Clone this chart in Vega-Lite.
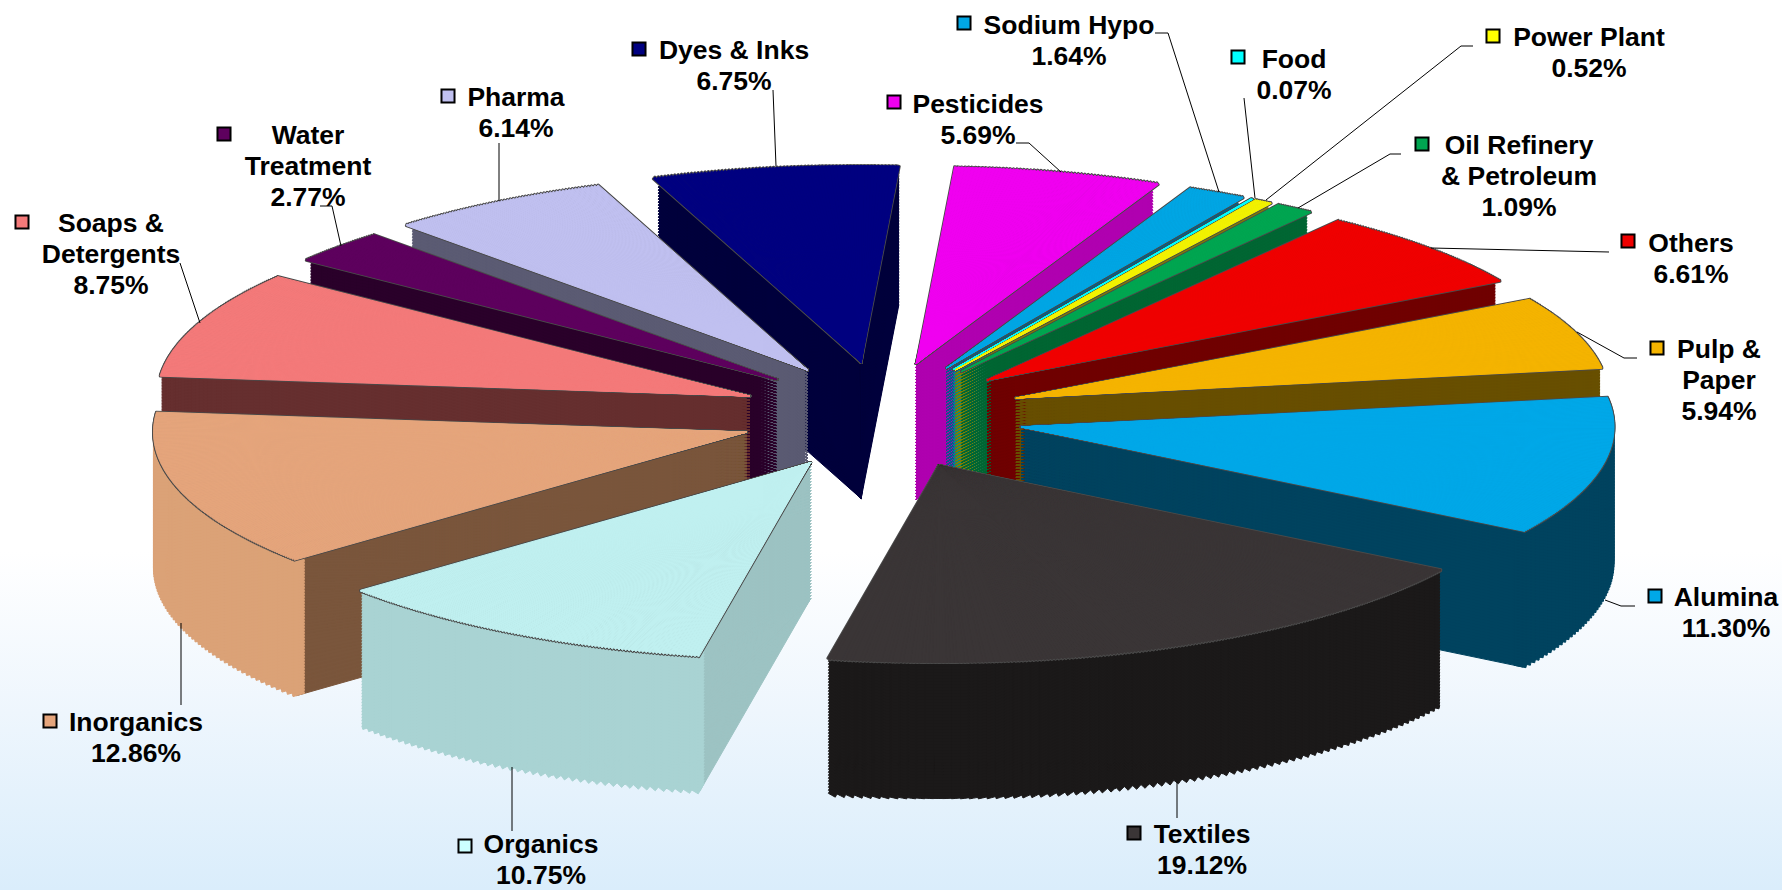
{
"$schema":"https://vega.github.io/schema/vega-lite/v6.json",
"width":1782,"height":890,"padding":0,"autosize":{"type":"none"},
"background":"#ffffff",
"view":{"stroke":null,"fill":{"gradient":"linear","x1":0,"y1":0,"x2":0,"y2":1,"stops":[{"offset":0,"color":"#ffffff"},{"offset":0.62,"color":"#ffffff"},{"offset":0.8,"color":"#eef6fd"},{"offset":1,"color":"#daedfb"}]}},
"data":{"values":[
{"name":"Pesticides","label":"Pesticides","value":5.69,"pos":0},
{"name":"Dyes & Inks","label":"Dyes & Inks","value":6.75,"pos":14},
{"name":"Sodium Hypo","label":"Sodium Hypo","value":1.64,"pos":1},
{"name":"Food","label":"Food","value":0.07,"pos":2},
{"name":"Power Plant","label":"Power Plant","value":0.52,"pos":3},
{"name":"Pharma","label":"Pharma","value":6.14,"pos":13},
{"name":"Oil Refinery & Petroleum","label":"Oil Refinery\n& Petroleum","value":1.09,"pos":4},
{"name":"Water Treatment","label":"Water\nTreatment","value":2.77,"pos":12},
{"name":"Others","label":"Others","value":6.61,"pos":5},
{"name":"Soaps & Detergents","label":"Soaps &\nDetergents","value":8.75,"pos":11},
{"name":"Pulp & Paper","label":"Pulp &\nPaper","value":5.94,"pos":6},
{"name":"Inorganics","label":"Inorganics","value":12.86,"pos":10},
{"name":"Alumina","label":"Alumina","value":11.30,"pos":7},
{"name":"Organics","label":"Organics","value":10.75,"pos":9},
{"name":"Textiles","label":"Textiles","value":19.12,"pos":8}
]},
"transform":[
{"window":[{"op":"sum","field":"value","as":"cum"}],"sort":[{"field":"pos","order":"ascending"}]},
{"calculate":"(datum.cum-datum.value)*3.6+3.7","as":"t0"},
{"calculate":"datum.cum*3.6+3.7","as":"t1"},
{"calculate":"(datum.t0+datum.t1)/2*PI/180","as":"tm"},
{"calculate":"882+142*sin(datum.tm)","as":"ax"},
{"calculate":"416-54*cos(datum.tm)","as":"ay"},
{"calculate":"datum.label+'\\n'+format(datum.value,'.2f')+'%'","as":"txt"}
],
"resolve":{"scale":{"x":"independent","y":"independent","fill":"independent","stroke":"independent"}},
"layer":[
{"transform":[
{"calculate":"ceil(datum.value*3)+3","as":"n"},{"calculate":"sequence(0,datum.n)","as":"steps"},{"flatten":["steps"],"as":["step"]},
{"calculate":"(datum.t0+(datum.t1-datum.t0)*datum.step/datum.n)*PI/180","as":"ra"},
{"calculate":"(datum.t0+(datum.t1-datum.t0)*(datum.step+1)/datum.n)*PI/180","as":"rb"},
{"calculate":"atan2(593*sin(datum.ra),197*cos(datum.ra))","as":"pa0"},
{"calculate":"atan2(593*sin(datum.rb),197*cos(datum.rb))","as":"pb0"},
{"calculate":"datum.pa0+2*PI*round((datum.ra-datum.pa0)/(2*PI))","as":"pa"},
{"calculate":"datum.pb0+2*PI*round((datum.rb-datum.pb0)/(2*PI))","as":"pb"},
{"calculate":"min(sqrt(pow(593*sin(datum.ra),2)+pow(197*cos(datum.ra),2)),sqrt(pow(593*sin(datum.rb),2)+pow(197*cos(datum.rb),2)))-1","as":"r"},
{"calculate":"[136,133,130,127,124,121,118,115,112,109,106,103,100,97,94,91,88,85,82,79,76,73,70,67,64,61,58,55,52,49,46,43,40,37,34,31,28,25,22,19,16,13,10,7,4,1]","as":"ds"},{"flatten":["ds"],"as":["d"]},{"calculate":"datum.ay+datum.d","as":"yy"}],
"mark":{"type":"arc","strokeWidth":1},
"encoding":{
"x":{"field":"ax","type":"quantitative","scale":{"domain":[0,1782],"nice":false,"zero":false},"axis":null},
"y":{"field":"yy","type":"quantitative","scale":{"domain":[890,0],"nice":false,"zero":false},"axis":null},
"theta":{"field":"pa","type":"quantitative","scale":null,"stack":null},
"theta2":{"field":"pb"},
"radius":{"field":"r","type":"quantitative","scale":null},
"fill":{"field":"name","type":"nominal","legend":null,"scale":{"domain":["Pesticides","Sodium Hypo","Food","Power Plant","Oil Refinery & Petroleum","Others","Pulp & Paper","Alumina","Textiles","Organics","Inorganics","Soaps & Detergents","Water Treatment","Pharma","Dyes & Inks"],"range":["#b000b0","#00628a","#008a8a","#808000","#006633","#700000","#684f00","#00435f","#1b1919","#9dc3c3","#7a563c","#662f2f","#2a002a","#5b5b73","#00003c"]}},
"stroke":{"field":"name","type":"nominal","legend":null,"scale":{"domain":["Pesticides","Sodium Hypo","Food","Power Plant","Oil Refinery & Petroleum","Others","Pulp & Paper","Alumina","Textiles","Organics","Inorganics","Soaps & Detergents","Water Treatment","Pharma","Dyes & Inks"],"range":["#b000b0","#00628a","#008a8a","#808000","#006633","#700000","#684f00","#00435f","#1b1919","#9dc3c3","#7a563c","#662f2f","#2a002a","#5b5b73","#00003c"]}}
}},
{"transform":[
{"filter":"datum.pos>=7&&datum.pos<=10"},
{"calculate":"ceil(datum.value*4)+3","as":"n"},{"calculate":"sequence(0,datum.n)","as":"steps"},{"flatten":["steps"],"as":["step"]},
{"calculate":"(datum.t0+(datum.t1-datum.t0)*datum.step/datum.n)*PI/180","as":"ra"},
{"calculate":"(datum.t0+(datum.t1-datum.t0)*(datum.step+1)/datum.n)*PI/180","as":"rb"},
{"calculate":"atan2(593*sin(datum.ra),197*cos(datum.ra))","as":"pa0"},
{"calculate":"atan2(593*sin(datum.rb),197*cos(datum.rb))","as":"pb0"},
{"calculate":"datum.pa0+2*PI*round((datum.ra-datum.pa0)/(2*PI))","as":"pa"},
{"calculate":"datum.pb0+2*PI*round((datum.rb-datum.pb0)/(2*PI))","as":"pb"},
{"calculate":"sqrt(pow(593*sin((datum.ra+datum.rb)/2),2)+pow(197*cos((datum.ra+datum.rb)/2),2))","as":"r"},
{"calculate":"datum.r-12","as":"r2"},
{"calculate":"[136,133,130,127,124,121,118,115,112,109,106,103,100,97,94,91,88,85,82,79,76,73,70,67,64,61,58,55,52,49,46,43,40,37,34,31,28,25,22,19,16,13,10,7,4,1]","as":"ds"},{"flatten":["ds"],"as":["d"]},{"calculate":"datum.ay+datum.d","as":"yy"}],
"mark":{"type":"arc","strokeWidth":1},
"encoding":{
"x":{"field":"ax","type":"quantitative","scale":{"domain":[0,1782],"nice":false,"zero":false},"axis":null},
"y":{"field":"yy","type":"quantitative","scale":{"domain":[890,0],"nice":false,"zero":false},"axis":null},
"theta":{"field":"pa","type":"quantitative","scale":null,"stack":null},
"theta2":{"field":"pb"},
"radius":{"field":"r","type":"quantitative","scale":null},
"radius2":{"field":"r2"},
"fill":{"field":"name","type":"nominal","legend":null,"scale":{"domain":["Alumina","Textiles","Organics","Inorganics"],"range":["#00435f","#1b1919","#a9d3d3","#dba277"]}},
"stroke":{"field":"name","type":"nominal","legend":null,"scale":{"domain":["Alumina","Textiles","Organics","Inorganics"],"range":["#00435f","#1b1919","#a9d3d3","#dba277"]}}
}},
{"transform":[
{"calculate":"ceil(datum.value*10)+4","as":"n"},{"calculate":"sequence(0,datum.n)","as":"steps"},{"flatten":["steps"],"as":["step"]},
{"calculate":"(datum.t0+(datum.t1-datum.t0)*datum.step/datum.n)*PI/180","as":"ra"},
{"calculate":"(datum.t0+(datum.t1-datum.t0)*(datum.step+1)/datum.n)*PI/180","as":"rb"},
{"calculate":"atan2(593*sin(datum.ra),197*cos(datum.ra))","as":"pa0"},
{"calculate":"atan2(593*sin(datum.rb),197*cos(datum.rb))","as":"pb0"},
{"calculate":"datum.pa0+2*PI*round((datum.ra-datum.pa0)/(2*PI))","as":"pa"},
{"calculate":"datum.pb0+2*PI*round((datum.rb-datum.pb0)/(2*PI))","as":"pb"},
{"calculate":"sqrt(pow(593*sin((datum.ra+datum.rb)/2),2)+pow(197*cos((datum.ra+datum.rb)/2),2))","as":"r"}],
"mark":{"type":"arc","stroke":"#4a4a4a","strokeWidth":2.8,"strokeJoin":"round"},
"encoding":{
"x":{"field":"ax","type":"quantitative","scale":{"domain":[0,1782],"nice":false,"zero":false},"axis":null},
"y":{"field":"ay","type":"quantitative","scale":{"domain":[890,0],"nice":false,"zero":false},"axis":null},
"theta":{"field":"pa","type":"quantitative","scale":null,"stack":null},
"theta2":{"field":"pb"},
"radius":{"field":"r","type":"quantitative","scale":null}
}},
{"transform":[
{"calculate":"ceil(datum.value*10)+4","as":"n"},{"calculate":"sequence(0,datum.n)","as":"steps"},{"flatten":["steps"],"as":["step"]},
{"calculate":"(datum.t0+(datum.t1-datum.t0)*datum.step/datum.n)*PI/180","as":"ra"},
{"calculate":"(datum.t0+(datum.t1-datum.t0)*(datum.step+1)/datum.n)*PI/180","as":"rb"},
{"calculate":"atan2(593*sin(datum.ra),197*cos(datum.ra))","as":"pa0"},
{"calculate":"atan2(593*sin(datum.rb),197*cos(datum.rb))","as":"pb0"},
{"calculate":"datum.pa0+2*PI*round((datum.ra-datum.pa0)/(2*PI))","as":"pa"},
{"calculate":"datum.pb0+2*PI*round((datum.rb-datum.pb0)/(2*PI))","as":"pb"},
{"calculate":"sqrt(pow(593*sin((datum.ra+datum.rb)/2),2)+pow(197*cos((datum.ra+datum.rb)/2),2))","as":"r"}],
"mark":{"type":"arc","strokeWidth":1,"strokeJoin":"round"},
"encoding":{
"x":{"field":"ax","type":"quantitative","scale":{"domain":[0,1782],"nice":false,"zero":false},"axis":null},
"y":{"field":"ay","type":"quantitative","scale":{"domain":[890,0],"nice":false,"zero":false},"axis":null},
"theta":{"field":"pa","type":"quantitative","scale":null,"stack":null},
"theta2":{"field":"pb"},
"radius":{"field":"r","type":"quantitative","scale":null},
"fill":{"field":"name","type":"nominal","legend":null,"scale":{"domain":["Pesticides","Sodium Hypo","Food","Power Plant","Oil Refinery & Petroleum","Others","Pulp & Paper","Alumina","Textiles","Organics","Inorganics","Soaps & Detergents","Water Treatment","Pharma","Dyes & Inks"],"range":["#f000f0","#00a6e4","#00ffff","#f2f200","#00a651","#f00000","#f5b400","#00a8e8","#3a3536","#c0f0f0","#e5a57c","#f47a7a","#5e005e","#c0c0f0","#000080"]}},
"stroke":{"field":"name","type":"nominal","legend":null,"scale":{"domain":["Pesticides","Sodium Hypo","Food","Power Plant","Oil Refinery & Petroleum","Others","Pulp & Paper","Alumina","Textiles","Organics","Inorganics","Soaps & Detergents","Water Treatment","Pharma","Dyes & Inks"],"range":["#f000f0","#00a6e4","#00ffff","#f2f200","#00a651","#f00000","#f5b400","#00a8e8","#3a3536","#c0f0f0","#e5a57c","#f47a7a","#5e005e","#c0c0f0","#000080"]}}
}},
{"transform":[{"calculate":"datum.pos+100","as":"p1"},{"calculate":"datum.pos+200","as":"p2"}],
"mark":{"type":"rule","color":"#000000","strokeWidth":1},
"encoding":{
"x":{"field":"p1","type":"quantitative","axis":null,"scale":{"type":"linear","nice":false,"zero":false,"domain":[100,101,102,103,104,105,106,107,108,109,110,111,112,113,114,200,201,202,203,204,205,206,207,208,209,210,211,212,213,214],"range":[1016,1155,1244,1473,1401,1609,1637,1635,1177,512,181,180,320,499,773,1029,1168,1244,1461,1390,1609,1624,1621,1177,512,181,180,332,499,773]}},
"x2":{"field":"p2"},
"y":{"field":"p1","type":"quantitative","axis":null,"scale":{"type":"linear","nice":false,"zero":false,"domain":[100,101,102,103,104,105,106,107,108,109,110,111,112,113,114,200,201,202,203,204,205,206,207,208,209,210,211,212,213,214],"range":[143,33,98,46,154,252,358,606,818,831,705,263,206,143,90,143,33,98,46,154,252,358,606,818,831,705,263,206,143,90]}},
"y2":{"field":"p2"}
}},
{"transform":[{"calculate":"datum.pos+200","as":"p2"},{"calculate":"datum.pos+300","as":"p3"}],
"mark":{"type":"rule","color":"#000000","strokeWidth":1},
"encoding":{
"x":{"field":"p2","type":"quantitative","axis":null,"scale":{"type":"linear","nice":false,"zero":false,"domain":[200,201,202,203,204,205,206,207,208,209,210,211,212,213,214,300,301,302,303,304,305,306,307,308,309,310,311,312,313,314],"range":[1029,1168,1244,1461,1390,1609,1624,1621,1177,512,181,180,332,499,773,1061,1219,1255,1266,1298,1431,1577,1605,1177,512,181,200,341,499,776]}},
"x2":{"field":"p3"},
"y":{"field":"p2","type":"quantitative","axis":null,"scale":{"type":"linear","nice":false,"zero":false,"domain":[200,201,202,203,204,205,206,207,208,209,210,211,212,213,214,300,301,302,303,304,305,306,307,308,309,310,311,312,313,314],"range":[143,33,98,46,154,252,358,606,818,831,705,263,206,143,90,172,192,198,200,208,248,332,600,782,767,623,323,246,201,166]}},
"y2":{"field":"p3"}
}},
{"mark":{"type":"point","shape":"square","filled":true,"stroke":"#000000","strokeWidth":2,"size":170,"opacity":1},
"encoding":{
"x":{"field":"pos","type":"quantitative","axis":null,"scale":{"type":"linear","nice":false,"zero":false,"domain":[0,1,2,3,4,5,6,7,8,9,10,11,12,13,14],"range":[894,964,1238,1493,1422,1628,1657,1655,1134,465,50,22,224,448,639]}},
"y":{"field":"pos","type":"quantitative","axis":null,"scale":{"type":"linear","nice":false,"zero":false,"domain":[0,1,2,3,4,5,6,7,8,9,10,11,12,13,14],"range":[102,23,57,36,144,241,348,596,833,846,721,222,134,96,49]}},
"fill":{"field":"name","type":"nominal","legend":null,"scale":{"domain":["Pesticides","Sodium Hypo","Food","Power Plant","Oil Refinery & Petroleum","Others","Pulp & Paper","Alumina","Textiles","Organics","Inorganics","Soaps & Detergents","Water Treatment","Pharma","Dyes & Inks"],"range":["#f000f0","#00a6e4","#00ffff","#ffff00","#00a651","#f00000","#f5b400","#00a8e8","#3a3536","#ccffff","#e5a57c","#f47a7a","#5e005e","#c0c0f0","#000080"]}}
}},
{"mark":{"type":"text","font":"Liberation Sans","fontWeight":"bold","fontSize":26.5,"lineHeight":31,"lineBreak":"\n","align":"center","baseline":"top","color":"#000000"},
"encoding":{
"x":{"field":"pos","type":"quantitative","axis":null,"scale":{"type":"linear","nice":false,"zero":false,"domain":[0,1,2,3,4,5,6,7,8,9,10,11,12,13,14],"range":[978,1069,1294,1589,1519,1691,1719,1726,1202,541,136,111,308,516,734]}},
"y":{"field":"pos","type":"quantitative","axis":null,"scale":{"type":"linear","nice":false,"zero":false,"domain":[0,1,2,3,4,5,6,7,8,9,10,11,12,13,14],"range":[91.5,12.5,46.5,24.5,132.5,230.5,336.5,584.5,821.5,832,709.5,210.5,122.5,84.5,37.5]}},
"text":{"field":"txt","type":"nominal"}
}}
]
}
